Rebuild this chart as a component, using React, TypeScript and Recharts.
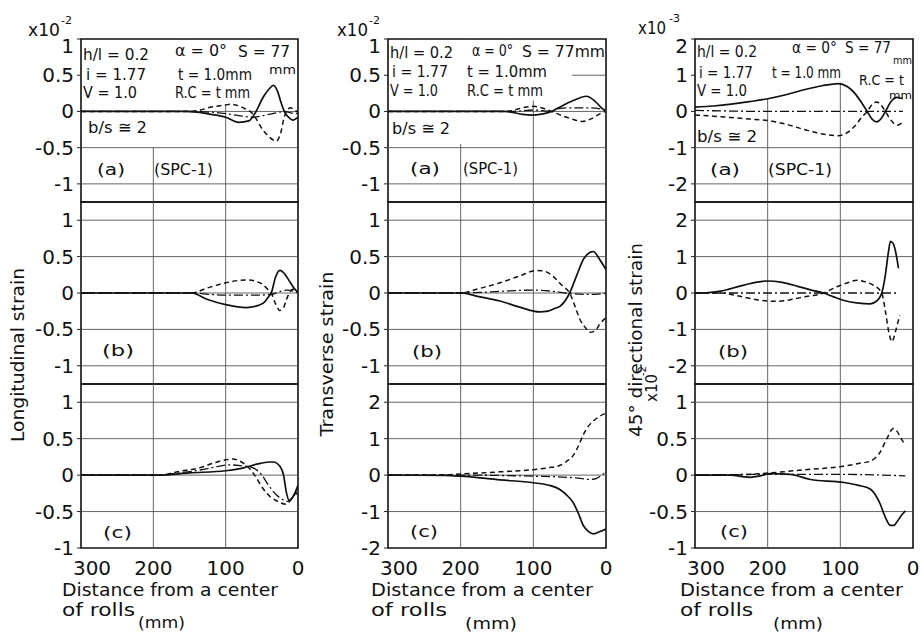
import React from 'react';
import { LineChart, Line, XAxis, YAxis, ReferenceLine, ReferenceArea } from 'recharts';

type Pair = [number, number];

const FONT = '"DejaVu Sans", sans-serif';

// distance from a center of rolls (mm)
const distanceTicks = [300, 200, 100, 0];
const ticksHalf = [1, 0.5, 0, -0.5, -1];
const ticksOne = [2, 1, 0, -1, -2];

// Longitudinal strain (x10^-2)
const longA_solid: Pair[] = [[300, 0], [200, 0], [160, 0], [140, -0.01], [120, -0.04], [100, -0.08], [82, -0.15], [68, -0.13], [58, 0], [48, 0.2], [40, 0.31], [34, 0.36], [28, 0.27], [24, 0.14], [19, 0], [13, -0.08], [7, -0.12], [0, -0.08]];
const longA_dashed: Pair[] = [[300, 0], [160, 0], [140, 0.01], [120, 0.06], [100, 0.09], [93, 0.1], [80, 0.07], [70, 0.02], [66, 0], [58, -0.1], [51, -0.22], [40, -0.35], [30, -0.41], [24, -0.3], [19, -0.08], [15, 0.02], [10, 0.05], [5, 0.02], [0, -0.01]];
const longA_dashdot: Pair[] = [[300, 0], [150, 0], [120, -0.01], [100, -0.03], [80, -0.06], [61, -0.08], [45, -0.05], [30, -0.02], [19, 0], [10, -0.02], [0, -0.03]];

const longB_solid: Pair[] = [[300, 0], [147, 0], [125, -0.09], [100, -0.16], [71, -0.2], [55, -0.17], [48, -0.14], [40, -0.04], [37, 0], [31, 0.22], [25, 0.31], [20, 0.28], [11, 0.15], [5, 0.06], [0, 0.01]];
const longB_dashed: Pair[] = [[300, 0], [147, 0], [125, 0.07], [100, 0.14], [71, 0.18], [55, 0.15], [48, 0.11], [40, 0.03], [37, 0], [31, -0.15], [25, -0.24], [20, -0.2], [16, -0.09], [12, 0], [7, 0.05], [0, 0.02]];
const longB_dashdot: Pair[] = [[300, 0], [147, 0], [120, -0.02], [100, -0.03], [60, -0.03], [37, -0.02], [25, 0.02], [15, 0.04], [7, 0.03], [0, 0]];

const longC_solid: Pair[] = [[300, 0], [191, 0], [150, 0.03], [100, 0.06], [75, 0.1], [57, 0.15], [40, 0.18], [34, 0.18], [25, 0.12], [20, 0], [16, -0.24], [12, -0.35], [6, -0.28], [0, -0.14]];
const longC_dashed: Pair[] = [[300, 0], [191, 0], [165, 0.05], [136, 0.1], [115, 0.17], [100, 0.21], [90, 0.22], [80, 0.19], [71, 0.13], [60, 0], [48, -0.19], [38, -0.3], [30, -0.35], [16, -0.4], [10, -0.34], [0, -0.19]];
const longC_dashdot: Pair[] = [[300, 0], [191, 0], [165, 0.03], [135, 0.07], [110, 0.12], [95, 0.14], [80, 0.13], [62, 0.1], [50, 0], [40, -0.15], [30, -0.27], [20, -0.34], [14, -0.36], [7, -0.3], [0, -0.24]];

// Transverse strain (x10^-2)
const transA_solid: Pair[] = [[300, 0], [140, 0], [130, -0.01], [115, -0.04], [100, -0.05], [85, -0.03], [75, 0], [60, 0.08], [45, 0.15], [27, 0.21], [15, 0.14], [5, 0.04], [1, 0.01]];
const transA_dashed: Pair[] = [[300, 0], [140, 0], [130, 0.01], [115, 0.05], [100, 0.07], [85, 0.04], [75, 0], [60, -0.06], [45, -0.11], [33, -0.14], [20, -0.1], [8, -0.03], [1, 0]];
const transA_dashdot: Pair[] = [[300, 0], [130, 0], [100, 0.02], [75, 0], [65, 0.04], [50, 0.05], [20, 0.05], [1, 0.02]];

const transB_solid: Pair[] = [[300, 0], [200, 0], [175, -0.05], [146, -0.11], [120, -0.19], [91, -0.26], [80, -0.25], [70, -0.21], [63, -0.18], [50, 0], [40, 0.25], [30, 0.48], [17.5, 0.57], [8, 0.45], [0, 0.32]];
const transB_dashed: Pair[] = [[300, 0], [200, 0], [175, 0.06], [146, 0.14], [120, 0.23], [95, 0.31], [85, 0.3], [73, 0.23], [60, 0.1], [50, 0], [42, -0.2], [36, -0.36], [28, -0.48], [22, -0.54], [15, -0.52], [8, -0.42], [0, -0.34]];
const transB_dashdot: Pair[] = [[300, 0], [200, 0], [150, 0.02], [100, 0.04], [70, 0.02], [55, 0], [30, -0.02], [15, -0.02], [0, 0]];

const transC_solid: Pair[] = [[300, 0], [220, -0.01], [200, -0.03], [146, -0.13], [100, -0.21], [80, -0.27], [63, -0.4], [54, -0.55], [45, -0.76], [38, -1.05], [31, -1.39], [24, -1.55], [17.5, -1.61], [10, -1.56], [0, -1.48]];
const transC_dashed: Pair[] = [[300, 0], [220, 0.01], [200, 0.03], [146, 0.09], [100, 0.15], [80, 0.2], [63, 0.27], [54, 0.38], [45, 0.54], [38, 0.8], [31, 1.12], [24, 1.35], [17.5, 1.48], [10, 1.6], [0, 1.7]];
const transC_dashdot: Pair[] = [[300, 0], [200, 0], [100, -0.03], [54, -0.06], [35, -0.09], [22, -0.12], [12, -0.08], [8, -0.03], [0, 0.09]];

// 45 degree directional strain (a, b: x10^-3, c: x10^-2)
const dirA_solid: Pair[] = [[300, 0.12], [275, 0.15], [250, 0.2], [225, 0.27], [200, 0.35], [175, 0.46], [150, 0.6], [125, 0.71], [103, 0.77], [90, 0.68], [80, 0.5], [70, 0.22], [63, 0], [56, -0.22], [50, -0.29], [44, -0.2], [38, 0], [30, 0.28], [22, 0.39], [14, 0.35]];
const dirA_dashed: Pair[] = [[300, -0.1], [275, -0.13], [250, -0.17], [225, -0.21], [200, -0.25], [175, -0.35], [150, -0.5], [125, -0.62], [103, -0.67], [90, -0.58], [80, -0.4], [70, -0.15], [63, 0], [56, 0.2], [50, 0.26], [44, 0.18], [38, 0], [30, -0.25], [22, -0.38], [14, -0.29]];
const dirA_dashdot: Pair[] = [[300, 0.03], [250, 0.01], [200, 0], [100, 0], [14, 0]];

const dirB_solid: Pair[] = [[300, 0], [289, 0], [265, 0.05], [234, 0.21], [200, 0.33], [180, 0.29], [160, 0.19], [140, 0.08], [123, 0], [110, -0.1], [96, -0.2], [75, -0.28], [59, -0.3], [50, -0.22], [47, -0.16], [43, 0], [38, 0.5], [34, 1.1], [31, 1.42], [27, 1.35], [24, 1.14], [20, 0.68]];
const dirB_dashed: Pair[] = [[300, 0], [265, 0], [234, -0.11], [210, -0.2], [187, -0.23], [170, -0.19], [151, -0.11], [123, 0], [105, 0.17], [90, 0.28], [77, 0.35], [65, 0.3], [54, 0.21], [43, 0], [38, -0.5], [33, -1.1], [29, -1.34], [24, -1.05], [20, -0.75], [18, -0.62]];
const dirB_dashdot: Pair[] = [[300, 0], [200, 0], [100, 0], [20, 0]];

const dirC_solid: Pair[] = [[300, 0], [250, 0], [235, -0.02], [224, -0.03], [210, -0.01], [197, 0.02], [169, 0.01], [141, -0.06], [96, -0.1], [75, -0.14], [59, -0.19], [50, -0.3], [45, -0.4], [38, -0.58], [31, -0.69], [26, -0.69], [22, -0.64], [15, -0.54], [10.5, -0.49]];
const dirC_dashed: Pair[] = [[300, 0], [250, 0], [224, 0.01], [197, 0.03], [141, 0.08], [96, 0.12], [75, 0.16], [59, 0.19], [45, 0.32], [36, 0.5], [27, 0.64], [22, 0.6], [15, 0.48], [10.5, 0.41]];
const dirC_dashdot: Pair[] = [[300, 0], [200, 0.01], [96, 0.01], [10.5, -0.01]];

const toPts = (arr: Pair[]) => arr.map(([x, y]) => ({ x, y }));

interface Seg { x1: number; y1: number; x2: number; y2: number }

interface PanelProps {
  left: number;
  top: number;
  w: number;
  h: number;
  domain: [number, number];
  ticks: number[];
  solid: Pair[];
  dashed: Pair[];
  dashdot: Pair[];
  hLines: number[];
  vLines?: number[];
  segs?: Seg[];
  showX?: boolean;
}

const XTick = (props: any) => {
  const { x, y, payload } = props;
  const shift = payload.value === 300 ? 11 : 0;
  return (
    <text x={x + shift} y={y} dy={16} textAnchor="middle" fontSize={20} fontFamily={FONT} fill="#111">
      {payload.value}
    </text>
  );
};

// the label of the top tick sits a little lower, as in the original
const YTick = (props: any) => {
  const { x, y, payload, top } = props;
  const shift = payload.value === top ? 7 : 0;
  return (
    <text x={x} y={y + shift} dy={7} textAnchor="end" fontSize={20} fontFamily={FONT} fill="#111">
      {payload.value}
    </text>
  );
};

const Panel = ({ left, top, w, h, domain, ticks, solid, dashed, dashdot, hLines, vLines = [], segs = [], showX }: PanelProps) => {
  const ML = 70;
  const MT = 10;
  const MR = 10;
  const width = ML + w + MR;
  const height = MT + h + (showX ? 40 : 10);
  const grid = '#555';
  return (
    <div style={{ position: 'absolute', left: left - ML, top: top - MT }}>
      <LineChart width={width} height={height} margin={{ top: MT, right: MR, left: 0, bottom: showX ? 0 : 10 }}>
        <XAxis
          dataKey="x"
          type="number"
          domain={[0, 300]}
          reversed
          allowDataOverflow
          ticks={distanceTicks}
          interval={0}
          hide={!showX}
          height={40}
          tickLine={false}
          axisLine={false}
          tickSize={0}
          tickMargin={11}
          tick={XTick}
        />
        <YAxis
          type="number"
          domain={domain}
          ticks={ticks}
          interval={0}
          allowDataOverflow
          width={ML}
          axisLine={false}
          tickLine={{ stroke: '#222' }}
          tickSize={4}
          tickMargin={3}
          tick={(p: any) => <YTick {...p} top={domain[1]} />}
        />
        {hLines.map((v) => (
          <ReferenceLine key={`h${v}`} y={v} stroke={grid} strokeWidth={0.9} />
        ))}
        {vLines.map((v) => (
          <ReferenceLine key={`v${v}`} x={v} stroke={grid} strokeWidth={0.9} />
        ))}
        {segs.map((s, i) => (
          <ReferenceLine
            key={`s${i}`}
            segment={[{ x: s.x1, y: s.y1 }, { x: s.x2, y: s.y2 }]}
            stroke={grid}
            strokeWidth={0.9}
          />
        ))}
        <Line data={toPts(dashdot)} dataKey="y" type="monotone" stroke="#111" strokeWidth={1.3} strokeDasharray="9 3 2 3" dot={false} isAnimationActive={false} />
        <Line data={toPts(dashed)} dataKey="y" type="monotone" stroke="#111" strokeWidth={1.5} strokeDasharray="5 3.5" dot={false} isAnimationActive={false} />
        <Line data={toPts(solid)} dataKey="y" type="monotone" stroke="#111" strokeWidth={1.7} dot={false} isAnimationActive={false} />
        <ReferenceArea x1={300} x2={0} y1={domain[0]} y2={domain[1]} fill="none" fillOpacity={0} stroke="#111" strokeWidth={1.6} ifOverflow="visible" />
      </LineChart>
    </div>
  );
};

const T = ({ x, y, w, s = 16, children }: { x: number; y: number; w?: number; s?: number; children: React.ReactNode }) => (
  <text x={x} y={y} fontSize={s} fontFamily={FONT} fill="#111" textLength={w} lengthAdjust={w ? 'spacingAndGlyphs' : undefined}>
    {children}
  </text>
);

const colL = [81, 388, 695];
const colW = [217, 218, 218];
const rowT = [39, 202, 384];
const rowH = [163, 182, 164];

export default function App() {
  return (
    <div style={{ position: 'absolute', left: 0, top: 0, width: 924, height: 632, background: '#fff', overflow: 'hidden' }}>
      {/* Longitudinal */}
      <Panel left={colL[0]} top={rowT[0]} w={colW[0]} h={rowH[0]} domain={[-1.25, 1]} ticks={ticksHalf}
        solid={longA_solid} dashed={longA_dashed} dashdot={longA_dashdot} hLines={[0, -0.5, -1]}
        segs={[{ x1: 200, y1: -0.5, x2: 200, y2: -1.25 }, { x1: 100, y1: 0.1, x2: 100, y2: -1.25 }]} />
      <Panel left={colL[0]} top={rowT[1]} w={colW[0]} h={rowH[1]} domain={[-1.25, 1.25]} ticks={ticksHalf}
        solid={longB_solid} dashed={longB_dashed} dashdot={longB_dashdot} hLines={[1, 0.5, 0, -0.5, -1]} vLines={[200, 100]} />
      <Panel left={colL[0]} top={rowT[2]} w={colW[0]} h={rowH[2]} domain={[-1, 1.25]} ticks={ticksHalf}
        solid={longC_solid} dashed={longC_dashed} dashdot={longC_dashdot} hLines={[1, 0.5, 0, -0.5]} vLines={[200, 100]} showX />

      {/* Transverse */}
      <Panel left={colL[1]} top={rowT[0]} w={colW[1]} h={rowH[0]} domain={[-1.25, 1]} ticks={ticksHalf}
        solid={transA_solid} dashed={transA_dashed} dashdot={transA_dashdot} hLines={[0, -0.5, -1]}
        segs={[{ x1: 200, y1: -0.45, x2: 200, y2: -1.25 }, { x1: 100, y1: 0.15, x2: 100, y2: -1.25 }, { x1: 47, y1: 0.5, x2: 0, y2: 0.5 }]} />
      <Panel left={colL[1]} top={rowT[1]} w={colW[1]} h={rowH[1]} domain={[-1.25, 1.25]} ticks={ticksHalf}
        solid={transB_solid} dashed={transB_dashed} dashdot={transB_dashdot} hLines={[1, 0.5, 0, -0.5, -1]} vLines={[200, 100]} />
      <Panel left={colL[1]} top={rowT[2]} w={colW[1]} h={rowH[2]} domain={[-2, 2.5]} ticks={ticksOne}
        solid={transC_solid} dashed={transC_dashed} dashdot={transC_dashdot} hLines={[2, 1, 0, -1]} vLines={[200, 100]} showX />

      {/* 45 degree directional */}
      <Panel left={colL[2]} top={rowT[0]} w={colW[2]} h={rowH[0]} domain={[-2.5, 2]} ticks={ticksOne}
        solid={dirA_solid} dashed={dirA_dashed} dashdot={dirA_dashdot} hLines={[-1, -2]}
        segs={[{ x1: 200, y1: 0.35, x2: 200, y2: -2.5 }, { x1: 100, y1: 0.8, x2: 100, y2: -2.5 }]} />
      <Panel left={colL[2]} top={rowT[1]} w={colW[2]} h={rowH[1]} domain={[-2.5, 2.5]} ticks={ticksOne}
        solid={dirB_solid} dashed={dirB_dashed} dashdot={dirB_dashdot} hLines={[2, 1, -1, -2]} vLines={[200, 100]} />
      <Panel left={colL[2]} top={rowT[2]} w={colW[2]} h={rowH[2]} domain={[-1, 1.25]} ticks={ticksHalf}
        solid={dirC_solid} dashed={dirC_dashed} dashdot={dirC_dashdot} hLines={[1, 0.5, -0.5]} vLines={[200, 100]} showX />

      <svg width={924} height={632} style={{ position: 'absolute', left: 0, top: 0, pointerEvents: 'none' }}>
        {/* axis titles */}
        <text transform="translate(24,355) rotate(-90)" textAnchor="middle" fontSize={18} fontFamily={FONT} fill="#111" textLength={174} lengthAdjust="spacingAndGlyphs">Longitudinal strain</text>
        <text transform="translate(333,354) rotate(-90)" textAnchor="middle" fontSize={18} fontFamily={FONT} fill="#111" textLength={165} lengthAdjust="spacingAndGlyphs">Transverse strain</text>
        <text transform="translate(642,340) rotate(-90)" textAnchor="middle" fontSize={18} fontFamily={FONT} fill="#111" textLength={194} lengthAdjust="spacingAndGlyphs">45° directional strain</text>

        <T x={62} y={596} w={216} s={18}>Distance from a center</T>
        <T x={62} y={616} w={73} s={18}>of rolls</T>
        <T x={138} y={628} w={47} s={16}>(mm)</T>
        <T x={371} y={596} w={222} s={18}>Distance from a center</T>
        <T x={371} y={616} w={76} s={18}>of rolls</T>
        <T x={465} y={629} w={52} s={16}>(mm)</T>
        <T x={680} y={596} w={223} s={18}>Distance from a center</T>
        <T x={680} y={616} w={73} s={18}>of rolls</T>
        <T x={773} y={629} w={50} s={16}>(mm)</T>

        {/* multipliers */}
        <T x={28} y={36} w={32} s={17}>x10</T>
        <T x={61} y={24} s={11}>-2</T>
        <T x={337} y={36} w={31} s={17}>x10</T>
        <T x={369} y={24} s={11}>-2</T>
        <T x={638} y={34} w={28} s={17}>x10</T>
        <T x={669} y={22} s={11}>-3</T>
        <text transform="translate(657,402) rotate(-90)" fontSize={15} fontFamily={FONT} fill="#111">x10</text>
        <text transform="translate(646,376) rotate(-90)" fontSize={10} fontFamily={FONT} fill="#111">-2</text>

        {/* column 1 notes */}
        <T x={83} y={60} w={66}>h/l = 0.2</T>
        <T x={175} y={56} w={52}>α = 0°</T>
        <T x={238} y={57} w={52}>S = 77</T>
        <T x={269} y={74} w={27} s={13}>mm</T>
        <T x={86} y={80} w={60}>i = 1.77</T>
        <T x={178} y={80} w={74}>t = 1.0mm</T>
        <T x={83} y={98} w={54}>V = 1.0</T>
        <T x={175} y={98} w={75}>R.C = t mm</T>
        <T x={88} y={133} w={59}>b/s ≅ 2</T>
        <T x={97} y={175} w={28}>(a)</T>
        <T x={154} y={175} w={59}>(SPC-1)</T>
        <T x={102} y={356} w={32}>(b)</T>
        <T x={103} y={538} w={29}>(c)</T>

        {/* column 2 notes */}
        <T x={390} y={58} w={63}>h/l = 0.2</T>
        <T x={472} y={56} w={41}>α = 0°</T>
        <T x={522} y={57} w={83}>S = 77mm</T>
        <T x={392} y={77} w={56}>i = 1.77</T>
        <T x={467} y={77} w={80}>t = 1.0mm</T>
        <T x={390} y={96} w={48}>V = 1.0</T>
        <T x={467} y={96} w={76}>R.C = t mm</T>
        <T x={392} y={134} w={58}>b/s ≅ 2</T>
        <T x={410} y={174} w={30}>(a)</T>
        <T x={463} y={174} w={55}>(SPC-1)</T>
        <T x={412} y={357} w={30}>(b)</T>
        <T x={410} y={537} w={28}>(c)</T>

        {/* column 3 notes */}
        <T x={697} y={57} w={60}>h/l = 0.2</T>
        <T x={792} y={53} w={45}>α = 0°</T>
        <T x={845} y={53} w={46} s={15}>S = 77</T>
        <T x={893} y={64} w={19} s={10}>mm</T>
        <T x={699} y={78} w={54}>i = 1.77</T>
        <T x={772} y={78} w={69}>t = 1.0 mm</T>
        <T x={859} y={85} w={45} s={14}>R.C = t</T>
        <T x={889} y={99} w={23} s={11}>mm</T>
        <T x={697} y={96} w={50}>V = 1.0</T>
        <T x={697} y={142} w={60}>b/s ≅ 2</T>
        <T x={710} y={175} w={30}>(a)</T>
        <T x={768} y={175} w={64}>(SPC-1)</T>
        <T x={718} y={357} w={30}>(b)</T>
        <T x={720} y={537} w={28}>(c)</T>
      </svg>
    </div>
  );
}
